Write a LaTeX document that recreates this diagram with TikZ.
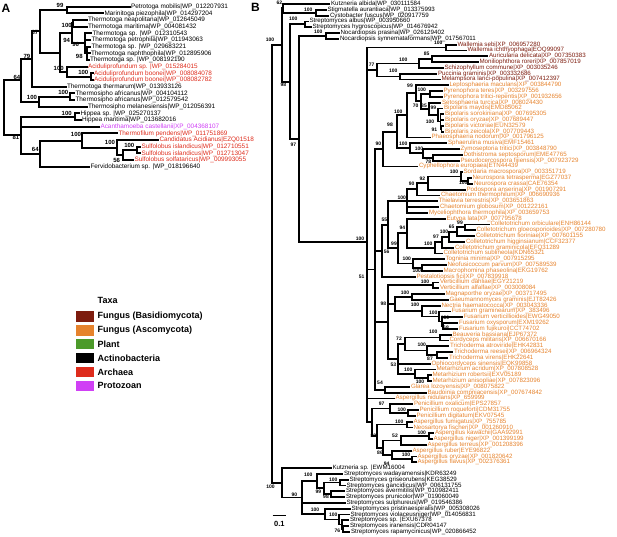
\documentclass[tikz,border=0pt]{standalone}
\usepackage{fontspec}
\setmainfont{Liberation Sans}
\usetikzlibrary{calc}
\definecolor{basid}{RGB}{125,28,14}
\definecolor{asco}{RGB}{230,131,45}
\definecolor{plant}{RGB}{76,154,42}
\definecolor{arch}{RGB}{222,44,28}
\definecolor{proto}{RGB}{208,64,245}
\newcommand\lf[5]{\node[lab,text=#4] (#1) at (#2,#3) {#5};}
\newcommand\ndraw[4]{\draw[br] (#1 |- #2) -- (#1 |- #3);%
  \foreach \ch in {#2,#3#4}{\draw[br] (#1 |- \ch) -- (\ch);}}
\newcommand\nd[5]{\path let \p1=(#3), \p2=(#4) in (#2pt,{0.5*\y1+0.5*\y2}) coordinate (#1);\ndraw{#1}{#3}{#4}{#5}}
\newcommand\ndy[6]{\coordinate (#1) at (#2,#3);\ndraw{#1}{#4}{#5}{#6}}
\newcommand\bsl[4]{\node[bs] (#1) at (#2,#3) {#4};}
\tikzset{
  key/.style={minimum width=18pt, minimum height=10.5pt, inner sep=0pt},
  ltx/.style={font=\bfseries\fontsize{9}{9}\selectfont, anchor=west, inner sep=0pt},
  panel/.style={font=\bfseries\fontsize{12}{12}\selectfont, inner sep=0pt}
}
\begin{document}
\begin{tikzpicture}[x=1pt,y=-1pt]
\useasboundingbox (0,0) rectangle (617,536);
\node[panel] (pA) at (6,8.3) {A};
\node[panel] (pB) at (255.5,7.8) {B};
% ================= PANEL A =================
\begin{scope}[br/.style={line width=2pt,line cap=rect},
  lab/.style={font=\fontsize{6.4}{6.4}\selectfont, anchor=west, inner xsep=1.3pt, inner ysep=0pt},
  bs/.style={font=\bfseries\fontsize{6}{6}\selectfont, inner sep=0pt}]
\lf{a1}{129.5}{6.7}{black}{Petrotoga mobilis|WP\_012207931}
\lf{a2}{103}{13.37}{black}{Marinitoga piezophila|WP\_014297204}
\lf{a3}{86.5}{20.04}{black}{Thermotoga neapolitana|WP\_012645049}
\lf{a4}{86.5}{26.71}{black}{Thermotoga maritima|WP\_004081432}
\lf{a5}{91}{33.38}{black}{Thermotoga sp. |WP\_012310543}
\lf{a6}{90}{40.05}{black}{Thermotoga petrophila|WP\_011943063}
\lf{a7}{90}{46.72}{black}{Thermotoga sp. |WP\_029683221}
\lf{a8}{89.5}{53.39}{black}{Thermotoga naphthophila|WP\_012895906}
\lf{a9}{88.5}{60.06}{black}{Thermotoga sp. |WP\_008192190}
\lf{a10}{86.5}{66.73}{arch}{Aciduliprofundum sp. |WP\_015284015}
\lf{a11}{92.5}{73.4}{arch}{Aciduliprofundum boonei|WP\_008084078}
\lf{a12}{92.5}{80.07}{arch}{Aciduliprofundum boonei|WP\_008082782}
\lf{a13}{65.5}{86.74}{black}{Thermotoga thermarum|WP\_013933126}
\lf{a14}{74}{93.41}{black}{Thermosipho africanus|WP\_004104112}
\lf{a15}{74}{100.08}{black}{Thermosipho africanus|WP\_012579542}
\lf{a16}{86.5}{106.75}{black}{Thermosipho melanesiensis|WP\_012056391}
\lf{a17}{79}{113.42}{black}{Hippea sp. |WP\_025270137}
\lf{a18}{80.5}{120.09}{black}{Hippea maritima|WP\_013682016}
\lf{a19}{99}{126.76}{proto}{Acanthamoeba castellanii|XP\_004368107}
\lf{a20}{117}{133.43}{arch}{Thermofilum pendens|WP\_011751869}
\lf{a21}{158}{140.1}{arch}{Candidatus Acidianus|EZQ01518}
\lf{a22}{140}{146.77}{arch}{Sulfolobus islandicus|WP\_012710551}
\lf{a23}{140}{153.44}{arch}{Sulfolobus islandicus|WP\_012713047}
\lf{a24}{133}{160.11}{arch}{Sulfolobus solfataricus|WP\_009993055}
\lf{a25}{89}{166.78}{black}{Fervidobacterium sp. |WP\_018196640}
\nd{an99}{66.7}{a1}{a2}{}
\nd{an100t}{73.3}{a3}{a4}{}
\nd{an98}{86.5}{a7}{a9}{,a8}
\nd{an96}{84.5}{a5}{an98}{,a6}
\nd{an94}{72}{an100t}{an96}{}
\nd{anab}{90.7}{a11}{a12}{}
\nd{anacid}{66.7}{a10}{anab}{}
\nd{anx}{60}{an94}{anacid}{}
\nd{an87}{40}{an99}{anx}{}
\nd{an79}{32}{an87}{a13}{}
\nd{anta}{70}{a14}{a15}{}
\nd{ants}{39}{anta}{a16}{}
\nd{an64a}{21}{an79}{ants}{}
\nd{anh}{75}{a17}{a18}{}
\nd{ansi}{136.7}{a22}{a23}{}
\nd{ans}{122.7}{ansi}{a24}{}
\nd{anc}{116.7}{a21}{ans}{}
\nd{anarch}{81.7}{a20}{anc}{}
\nd{an64b}{40}{anarch}{a25}{}
\nd{an81}{20.7}{anh}{an64b}{,a19}
\nd{arootA}{4}{an64a}{an81}{}
\bsl{sa1}{60}{5.3}{99}
\bsl{sa2}{66.7}{25}{100}
\bsl{sa3}{66.7}{40.7}{94}
\bsl{sa4}{75.7}{44}{96}
\bsl{sa5}{79.3}{56.7}{98}
\bsl{sa6}{35}{32.3}{87}
\bsl{sa7}{27}{56.7}{79}
\bsl{sa8}{17}{77.7}{64}
\bsl{sa9}{58.7}{68.3}{100}
\bsl{sa10}{83.3}{72.7}{100}
\bsl{sa11}{63.3}{92.3}{100}
\bsl{sa12}{32}{97.7}{100}
\bsl{sa13}{66.7}{113.3}{100}
\bsl{sa14}{16}{137.3}{81}
\bsl{sa15}{76}{134.3}{100}
\bsl{sa16}{110}{142.7}{100}
\bsl{sa17}{129.3}{145.7}{100}
\bsl{sa18}{116.7}{160}{56}
\bsl{sa19}{35.3}{149.3}{64}
\end{scope}
% ================= LEGEND =================
\node[ltx] (ttl) at (97.5,300) {Taxa};
\node[key,fill=basid] (k1) at (85,316.5) {};
\node[ltx] (t1) at (97.5,316.5) {Fungus (Basidiomycota)};
\node[key,fill=asco] (k2) at (85,330.35) {};
\node[ltx] (t2) at (97.5,330.35) {Fungus (Ascomycota)};
\node[key,fill=plant] (k3) at (85,344.2) {};
\node[ltx] (t3) at (97.5,344.2) {Plant};
\node[key,fill=black] (k4) at (85,358.05) {};
\node[ltx] (t4) at (97.5,358.05) {Actinobacteria};
\node[key,fill=arch] (k5) at (85,371.9) {};
\node[ltx] (t5) at (97.5,371.9) {Archaea};
\node[key,fill=proto] (k6) at (85,385.75) {};
\node[ltx] (t6) at (97.5,385.75) {Protozoan};
% ================= PANEL B =================
\begin{scope}[br/.style={line width=1.8pt,line cap=rect},
  lab/.style={font=\fontsize{6.2}{6.2}\selectfont, anchor=west, inner xsep=1.3pt, inner ysep=0pt},
  bs/.style={font=\bfseries\fontsize{5}{5}\selectfont, inner sep=0pt}]
\lf{b1}{329.5}{4}{black}{Kutzneria albida|WP\_030111584}
\lf{b2}{326}{9.8}{black}{Stigmatella aurantiaca|WP\_013375993}
\lf{b3}{328.5}{15.6}{black}{Cystobacter fuscus|WP\_020917759}
\lf{b4}{308}{21.4}{black}{Streptomyces albus|WP\_003950660}
\lf{b5}{311}{27.2}{black}{Streptomyces hygroscopicus|WP\_014676942}
\lf{b6}{339}{33}{black}{Nocardiopsis prasina|WP\_026129402}
\lf{b7}{338.5}{38.8}{black}{Nocardiopsis synnemataformans|WP\_017567011}
\lf{b8}{456}{44.6}{basid}{Wallemia sebi|XP\_006957280}
\lf{b9}{466}{50.4}{basid}{Wallemia ichthyophaga|EOQ99097}
\lf{b10}{487.5}{56.2}{basid}{Auricularia delicata|XP\_007350383}
\lf{b11}{478}{62}{basid}{Moniliophthora roreri|XP\_007857019}
\lf{b12}{443}{67.8}{basid}{Schizophyllum commune|XP\_003035246}
\lf{b13}{436.5}{73.6}{basid}{Puccinia graminis|XP\_003332686}
\lf{b14}{440}{79.4}{basid}{Melampsora larici-populina|XP\_007412397}
\lf{b15}{448}{85.2}{asco}{Leptosphaeria maculans|XP\_003844790}
\lf{b16}{442}{91}{asco}{Pyrenophora teres|XP\_003297556}
\lf{b17}{442}{96.8}{asco}{Pyrenophora tritici-repentis|XP\_001932656}
\lf{b18}{440.5}{102.6}{asco}{Setosphaeria turcica|XP\_008024430}
\lf{b19}{442.5}{108.4}{asco}{Bipolaris maydis|EMD85062}
\lf{b20}{443.5}{114.2}{asco}{Bipolaris sorokiniana|XP\_007695305}
\lf{b21}{443.5}{120}{asco}{Bipolaris oryzae|XP\_007689447}
\lf{b22}{443.5}{125.8}{asco}{Bipolaris victoriae|EUN32579}
\lf{b23}{443.5}{131.6}{asco}{Bipolaris zeicola|XP\_007709443}
\lf{b24}{430}{137.4}{asco}{Phaeosphaeria nodorum|XP\_001796125}
\lf{b25}{446.5}{143.2}{asco}{Sphaerulina musiva|EMF15461}
\lf{b26}{459}{149}{asco}{Zymoseptoria tritici|XP\_003848790}
\lf{b27}{462}{154.8}{asco}{Dothistroma septosporum|EME47765}
\lf{b28}{459}{160.6}{asco}{Pseudocercospora fijiensis|XP\_007923729}
\lf{b29}{417.5}{166.4}{asco}{Cyphellophora europaea|ETN44439}
\lf{b30}{462}{172.2}{asco}{Sordaria macrospora|XP\_003351719}
\lf{b31}{471}{178}{asco}{Neurospora tetrasperma|EGZ77037}
\lf{b32}{472.5}{183.8}{asco}{Neurospora crassa|CAE76354}
\lf{b33}{465}{189.6}{asco}{Podospora anserina|XP\_001907291}
\lf{b34}{439.5}{195.4}{asco}{Chaetomium thermophilum|XP\_006690936}
\lf{b35}{437}{201.2}{asco}{Thielavia terrestris|XP\_003651863}
\lf{b36}{438.5}{207}{asco}{Chaetomium globosum|XP\_001222161}
\lf{b37}{427.5}{212.8}{asco}{Myceliophthora thermophila|XP\_003659753}
\lf{b38}{445}{218.6}{asco}{Eutypa lata|XP\_007795678}
\lf{b39}{489}{224.4}{asco}{Colletotrichum orbiculare|ENH86144}
\lf{b40}{475}{230.2}{asco}{Colletotrichum gloeosporioides|XP\_007280780}
\lf{b41}{474.5}{236}{asco}{Colletotrichum fioriniae|XP\_007601155}
\lf{b42}{464.5}{241.8}{asco}{Colletotrichum higginsianum|CCF32377}
\lf{b43}{453.5}{247.6}{asco}{Colletotrichum graminicola|EFQ31289}
\lf{b44}{442}{253.4}{asco}{Colletotrichum sublineola|KDN65321}
\lf{b45}{444}{259.2}{asco}{Togninia minima|XP\_007915295}
\lf{b46}{446}{265}{asco}{Neofusicoccum parvum|XP\_007589539}
\lf{b47}{442}{270.8}{asco}{Macrophomina phaseolina|EKG19762}
\lf{b48}{415}{276.6}{asco}{Pestalotiopsis fici|XP\_007839918}
\lf{b49}{438.5}{282.4}{asco}{Verticillium dahliae|EGY21219}
\lf{b50}{438.5}{288.2}{asco}{Verticillium alfalfae|XP\_003008084}
\lf{b51}{444}{294}{asco}{Magnaporthe oryzae|XP\_003717495}
\lf{b52}{448}{299.8}{asco}{Gaeumannomyces graminis|EJT82426}
\lf{b53}{440}{305.6}{asco}{Nectria haematococca|XP\_003043336}
\lf{b54}{450}{311.4}{asco}{Fusarium graminearum|XP\_383496}
\lf{b55}{462}{317.2}{asco}{Fusarium verticillioides|EWG49050}
\lf{b56}{457.5}{323}{asco}{Fusarium oxysporum|EXM19262}
\lf{b57}{457.5}{328.8}{asco}{Fusarium fujikuroi|CCT74702}
\lf{b58}{451}{334.6}{asco}{Beauveria bassiana|EJP67372}
\lf{b59}{448}{340.4}{asco}{Cordyceps militaris|XP\_006670166}
\lf{b60}{448.5}{346.2}{asco}{Trichoderma atroviride|EHK42831}
\lf{b61}{452.5}{352}{asco}{Trichoderma reesei|XP\_006964324}
\lf{b62}{447.5}{357.8}{asco}{Trichoderma virens|EHK22641}
\lf{b63}{430}{363.6}{asco}{Ophiocordyceps sinensis|EQK99858}
\lf{b64}{435}{369.4}{asco}{Metarhizium acridum|XP\_007808528}
\lf{b65}{431}{375.2}{asco}{Metarhizium robertsii|EXV05189}
\lf{b66}{431}{381}{asco}{Metarhizium anisopliae|XP\_007823096}
\lf{b67}{409.5}{386.8}{asco}{Glarea lozoyensis|XP\_008075822}
\lf{b68}{426}{392.6}{asco}{Baudoinia compniacensis|XP\_007674842}
\lf{b69}{394}{398.4}{asco}{Aspergillus nidulans|XP\_659999}
\lf{b70}{412.5}{404.2}{asco}{Penicillium oxalicum|EPS27857}
\lf{b71}{418}{410}{asco}{Penicillium roqueforti|CDM31755}
\lf{b72}{415}{415.8}{asco}{Penicillium digitatum|EKV07545}
\lf{b73}{412}{421.6}{asco}{Aspergillus fumigatus|XP\_755785}
\lf{b74}{412}{427.4}{asco}{Neosartorya fischeri|XP\_001260910}
\lf{b75}{433.5}{433.2}{asco}{Aspergillus kawachii|GAA92991}
\lf{b76}{432}{439}{asco}{Aspergillus niger|XP\_001399199}
\lf{b77}{426}{444.8}{asco}{Aspergillus terreus|XP\_001208396}
\lf{b78}{411}{450.6}{asco}{Aspergillus ruber|EYE96822}
\lf{b79}{416}{456.4}{asco}{Aspergillus oryzae|XP\_001820642}
\lf{b80}{416}{462.2}{asco}{Aspergillus flavus|XP\_002376361}
\lf{b81}{331}{468}{black}{Kutzneria sp. |EWM16004}
\lf{b82}{342.5}{473.8}{black}{Streptomyces wadayamensis|KDR63249}
\lf{b83}{348}{479.6}{black}{Streptomyces griseorubens|KEG38529}
\lf{b84}{345}{485.4}{black}{Streptomyces gancidicus|WP\_006131755}
\lf{b85}{344.5}{491.2}{black}{Streptomyces avermitilis|WP\_010982411}
\lf{b86}{344.5}{497}{black}{Streptomyces prunicolor|WP\_019060049}
\lf{b87}{345}{502.8}{black}{Streptomyces sulphureus|WP\_019546386}
\lf{b88}{350}{508.6}{black}{Streptomyces pristinaespiralis|WP\_005308026}
\lf{b89}{349}{514.4}{black}{Streptomyces violaceusniger|WP\_014056831}
\lf{b90}{348.5}{520.2}{black}{Streptomyces sp. |EXU67378}
\lf{b91}{348.5}{526}{black}{Streptomyces iranensis|CDR04147}
\lf{b92}{349.5}{531.8}{black}{Streptomyces rapamycinicus|WP\_020866452}
% top actinobacteria
\nd{nstig}{315.7}{b2}{b3}{}
\nd{n62}{283.3}{b1}{nstig}{}
\nd{nsalb}{305}{b4}{b5}{}
\nd{nnoc}{326}{b6}{b7}{}
% basidiomycota
\nd{nwal}{446}{b8}{b9}{}
\nd{n85b}{431.7}{b10}{b11}{}
\nd{nag}{419}{n85b}{b12}{}
\nd{npuc}{400}{b13}{b14}{}
\nd{n77}{376.7}{nag}{npuc}{}
% dothideomycetes
\nd{nbz}{441.5}{b22}{b23}{}
\nd{nbo}{440.5}{b20}{nbz}{,b21}
\nd{nbn}{438}{b19}{nbo}{}
\nd{n85}{429.3}{b18}{nbn}{}
\nd{npyr}{430}{b16}{b17}{}
\nd{n70}{420.7}{npyr}{n85}{}
\nd{n99l}{416}{b15}{n70}{}
\nd{npleo}{406.7}{n99l}{b24}{}
\nd{n78}{433.3}{b27}{b28}{}
\nd{nzy}{423.3}{b26}{n78}{}
\nd{ncap}{410}{b25}{nzy}{}
\nd{n98d}{396.7}{npleo}{ncap}{}
\nd{n90}{383.3}{n98d}{b29}{}
% sordariomycetes
\nd{nneu}{468.3}{b31}{b32}{}
\nd{nsord}{460.7}{b30}{nneu}{}
\nd{n92}{428.3}{nsord}{b33}{}
\nd{n90b}{416.7}{n92}{b34}{}
\nd{nsordales}{406.7}{n90b}{b37}{,b35,b36}
\nd{n99c}{465}{b39}{b40}{}
\nd{n65}{456.7}{n99c}{b41}{}
\nd{n100c}{449.3}{n65}{b42}{}
\nd{n97c}{441.7}{n100c}{b43}{}
\nd{ncoll}{435}{n97c}{b44}{}
\nd{n94e}{406.7}{b38}{ncoll}{}
\nd{n100b}{421.7}{b46}{b47}{}
\nd{ntog}{413.3}{b45}{n100b}{}
\nd{n99s}{398.3}{n94e}{ntog}{}
\nd{n55}{388.3}{nsordales}{n99s}{}
\nd{n56}{382}{n55}{b48}{}
% hypocreales etc.
\nd{nvert}{432.7}{b49}{b50}{}
\nd{nmag}{411.7}{b51}{b52}{}
\nd{n68}{443.3}{b56}{b57}{}
\nd{nfv}{441.7}{b55}{n68}{}
\nd{nfus}{439.3}{b54}{nfv}{}
\nd{nnec}{421.7}{b53}{nfus}{}
\nd{nmagnec}{395}{nmag}{nnec}{}
\nd{nbea}{440}{b58}{b59}{}
\nd{n87t}{436.7}{b61}{b62}{}
\nd{ntri}{426.7}{b60}{n87t}{}
\nd{n72}{405}{nbea}{ntri}{}
\nd{n100m}{428.3}{b65}{b66}{}
\nd{nmet}{415}{b64}{n100m}{}
\nd{n53}{398.3}{n72}{nmet}{,b63}
\nd{nhypo}{388.3}{nvert}{n53}{,nmagnec}
\nd{n54b}{385}{b67}{b68}{}
\nd{n51}{375}{n90}{n54b}{,n56,nhypo}
% eurotiomycetes
\nd{npr}{408.3}{b71}{b72}{}
\nd{npen}{390}{b70}{npr}{}
\nd{nfum}{407.3}{b73}{b74}{}
\nd{nkn}{429.3}{b75}{b76}{}
\nd{n52}{400.7}{nkn}{b77}{}
\nd{nof}{411.7}{b79}{b80}{}
\nd{n94a}{391.7}{b78}{nof}{}
\nd{n86}{383.3}{n52}{n94a}{}
\nd{n88}{376.7}{nfum}{n86}{}
\nd{neuro}{371.7}{npen}{n88}{}
\ndy{nfungi}{366.7}{242}{nwal}{neuro}{,n77,n51,b69}
\nd{n97}{299}{nnoc}{nfungi}{}
\nd{n98}{290}{nsalb}{n97}{}
\nd{nT}{281.7}{n62}{n98}{}
% streptomyces
\nd{n100g}{340}{b83}{b84}{}
\nd{n98a}{331}{b85}{b86}{}
\nd{n99a}{324}{n100g}{n98a}{}
\nd{n100w}{316.7}{b82}{n99a}{}
\nd{n76}{343.3}{b91}{b92}{}
\nd{nv2}{341.7}{b90}{n76}{}
\nd{n100v}{339}{b89}{nv2}{}
\nd{n100p}{324.7}{b88}{n100v}{}
\nd{n90s}{301.7}{n100w}{n100p}{,b87}
\nd{nB1}{281.7}{b81}{n90s}{}
\nd{rootB}{271.7}{nT}{nB1}{}
% bootstrap values
\bsl{sb1}{279.3}{2.9}{62}
\bsl{sb2}{308.3}{10}{100}
\bsl{sb3}{293.3}{19}{100}
\bsl{sb4}{318.3}{31.7}{100}
\bsl{sb5}{270}{40}{100}
\bsl{sb6}{438.3}{42.7}{100}
\bsl{sb7}{371.7}{65}{77}
\bsl{sb8}{403.3}{60}{100}
\bsl{sb9}{426.7}{53.3}{85}
\bsl{sb10}{393.3}{70.7}{100}
\bsl{sb11}{283.3}{85}{98}
\bsl{sb12}{410}{86}{99}
\bsl{sb13}{421.7}{89.3}{100}
\bsl{sb14}{415.7}{106}{70}
\bsl{sb15}{424}{106}{85}
\bsl{sb16}{433.3}{107.3}{99}
\bsl{sb17}{398.3}{111.7}{100}
\bsl{sb18}{430}{121.7}{100}
\bsl{sb19}{434.3}{129.3}{91}
\bsl{sb20}{390}{125}{98}
\bsl{sb21}{293.3}{145}{97}
\bsl{sb22}{378.3}{144}{90}
\bsl{sb23}{403.3}{144}{100}
\bsl{sb24}{419}{148.3}{100}
\bsl{sb25}{428.3}{161.7}{78}
\bsl{sb26}{454}{171.7}{100}
\bsl{sb27}{422.3}{179}{92}
\bsl{sb28}{463.3}{182.7}{100}
\bsl{sb29}{411.7}{183.3}{90}
\bsl{sb30}{401.7}{197.3}{100}
\bsl{sb31}{384.3}{220}{55}
\bsl{sb32}{402.3}{227.3}{94}
\bsl{sb33}{460}{222.3}{99}
\bsl{sb34}{451.7}{226.7}{65}
\bsl{sb35}{444}{231.7}{100}
\bsl{sb36}{436}{236.7}{97}
\bsl{sb37}{360}{238.3}{100}
\bsl{sb38}{428.3}{243.3}{100}
\bsl{sb39}{394}{243.3}{99}
\bsl{sb40}{386.7}{251.7}{56}
\bsl{sb41}{406.7}{258.3}{100}
\bsl{sb42}{416.7}{271}{100}
\bsl{sb43}{361.7}{276.7}{51}
\bsl{sb44}{425}{281.7}{100}
\bsl{sb45}{405}{292.7}{100}
\bsl{sb46}{383.3}{304}{98}
\bsl{sb47}{415}{305}{100}
\bsl{sb48}{433.3}{312.7}{100}
\bsl{sb49}{445}{317.3}{100}
\bsl{sb50}{446}{327.3}{68}
\bsl{sb51}{433.3}{331.7}{100}
\bsl{sb52}{399}{338.3}{72}
\bsl{sb53}{421.7}{345}{100}
\bsl{sb54}{430}{358.3}{87}
\bsl{sb55}{393.3}{365}{53}
\bsl{sb56}{408.3}{369.3}{100}
\bsl{sb57}{420}{381.7}{100}
\bsl{sb58}{380}{382.3}{54}
\bsl{sb59}{381.7}{403.3}{97}
\bsl{sb60}{401.7}{409.3}{100}
\bsl{sb61}{399.3}{421.7}{100}
\bsl{sb62}{373.3}{436}{88}
\bsl{sb63}{395}{436}{52}
\bsl{sb64}{421.7}{432.7}{100}
\bsl{sb65}{380}{452.7}{86}
\bsl{sb66}{406}{454.3}{100}
\bsl{sb67}{386.7}{463.3}{94}
\bsl{sb68}{270.5}{487}{100}
\bsl{sb69}{308.3}{475}{100}
\bsl{sb70}{333.3}{479.3}{100}
\bsl{sb71}{318.3}{492}{99}
\bsl{sb72}{326}{496.7}{98}
\bsl{sb73}{294.3}{495}{90}
\bsl{sb74}{315}{509.3}{100}
\bsl{sb75}{333.3}{514.3}{100}
\bsl{sb76}{337.3}{531}{76}
% scale bar
\coordinate (sc1) at (272.7,515.7);
\coordinate (sc2) at (286,515.7);
\draw[line width=1.5pt] (sc1) -- (sc2);
\node[font=\bfseries\fontsize{7.5}{7.5}\selectfont, inner sep=0pt] (sclab) at (279.3,523.5) {0.1};
\end{scope}
\end{tikzpicture}
\end{document}
